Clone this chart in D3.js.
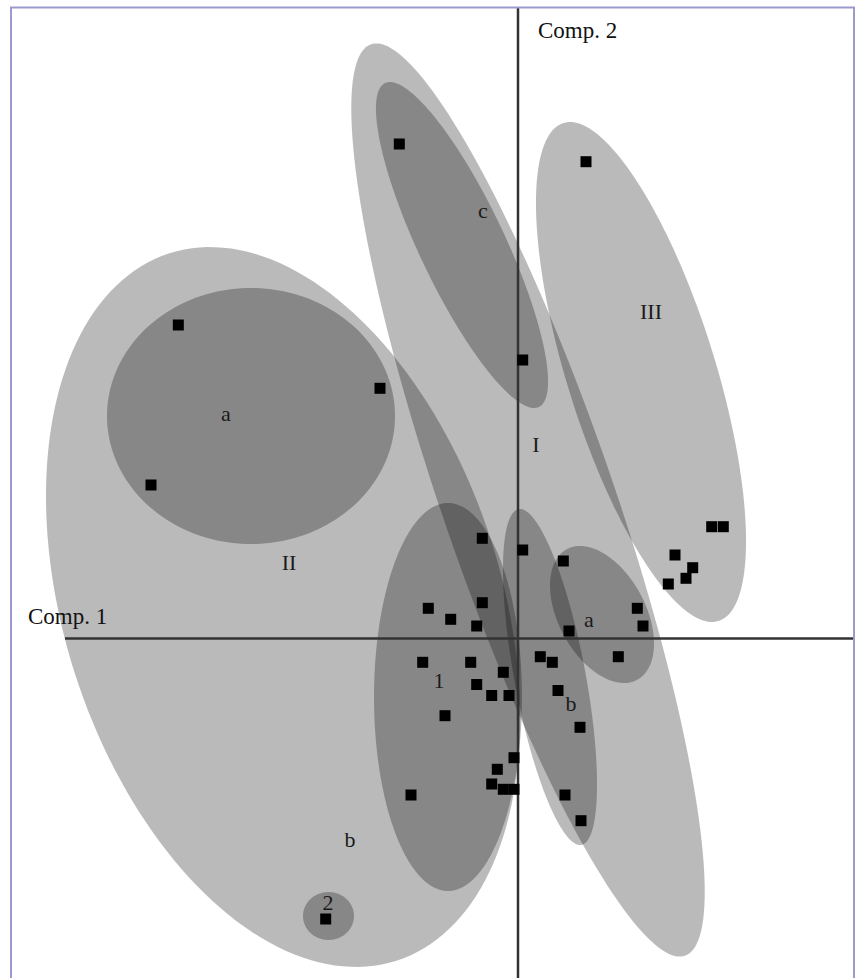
<!DOCTYPE html>
<html>
<head>
<meta charset="utf-8">
<script src="https://cdn.jsdelivr.net/npm/d3@7"></script>
<style>
  html, body { margin: 0; padding: 0; background: #fff; }
  svg { display: block; }
  text { font-family: "Liberation Serif", "Times New Roman", serif; }
</style>
</head>
<body>
<div id="chart"></div>
<script>
// Scores on the first two principal components
const pointComp1 = [
  -3.397, -1.38, -3.67, -1.187, 0.047, 0.68, 1.937, 2.053, 1.57, 1.747,
  1.68, 1.503, 0.453, 1.193, 1.25, 0.51, 1.003, -0.357, 0.047, -0.897,
  -0.357, -0.673, -0.413, -0.953, -0.473, 0.223, 0.343, -0.147, -0.413, -0.263,
  -0.09, 0.40, -0.73, 0.62, -0.04, -0.207, -0.263, -0.147, -0.04, -1.07,
  0.47, 0.63, -1.923
];
const pointComp2 = [
  3.135, 2.502, 1.535, 4.945, 2.785, 4.768, 1.118, 1.118, 0.835, 0.708,
  0.602, 0.545, 0.775, 0.302, 0.125, 0.075, -0.182, 1.002, 0.885, 0.302,
  0.358, 0.192, 0.125, -0.238, -0.238, -0.182, -0.238, -0.338, -0.46, -0.57,
  -0.57, -0.52, -0.772, -0.888, -1.192, -1.308, -1.455, -1.508, -1.508, -1.565,
  -1.565, -1.822, -2.805
];

// Group envelopes: centre, semi-axes and orientation (degrees) in score units
const groupNames  = ["II", "I", "III", "II a", "I c", "1", "I b", "I a", "2"];
const groupCx     = [-2.35, 0.10, 1.23, -2.67, -0.56, -0.70, 0.32, 0.84, -1.895];
const groupCy     = [0.315, 1.385, 2.665, 2.225, 3.935, -0.585, -0.385, 0.24, -2.775];
const groupRa     = [3.715, 4.82, 2.608, 1.44, 1.793, 1.94, 1.708, 0.742, 0.255];
const groupRb     = [2.185, 0.86, 0.742, 1.28, 0.428, 0.74, 0.356, 0.435, 0.24];
const groupAngle  = [-72.2, -71, -72.7, 0, -64.6, 90, -79.4, -61.7, 0];

// Group labels
const labelText = ["a", "II", "c", "III", "I", "a", "1", "b", "b", "2"];
const labelX    = [-2.92, -2.29, -0.35, 1.33, 0.18, 0.71, -0.79, 0.53, -1.68, -1.90];
const labelY    = [2.175, 0.685, 4.205, 3.195, 1.865, 0.115, -0.495, -0.725, -2.085, -2.715];

const axisTitles = ["Comp. 1", "Comp. 2"];

const width = 856, height = 978;
const svg = d3.select("#chart").append("svg")
  .attr("width", width).attr("height", height);

const x = d3.scaleLinear().domain([-5, 3]).range([18, 818]);
const y = d3.scaleLinear().domain([-3, 6]).range([938.5, 38.5]);

// Ellipse outline sampled in score space, projected through the scales
function ellipsePoints(i) {
  const phi = groupAngle[i] * Math.PI / 180;
  const ux = Math.cos(phi), uy = Math.sin(phi);
  const vx = -Math.sin(phi), vy = Math.cos(phi);
  return d3.range(0, 361, 2).map(deg => {
    const t = deg * Math.PI / 180;
    const a = groupRa[i] * Math.cos(t), b = groupRb[i] * Math.sin(t);
    return [groupCx[i] + a * ux + b * vx, groupCy[i] + a * uy + b * vy];
  });
}
const line = d3.line().x(d => x(d[0])).y(d => y(d[1])).curve(d3.curveLinearClosed);

svg.append("g").selectAll("path")
  .data(groupNames.map((n, i) => i))
  .join("path")
  .attr("d", i => line(ellipsePoints(i)))
  .attr("fill", "#000")
  .attr("fill-opacity", 0.27)
  .attr("stroke", "none");

// Component axes through the origin
svg.append("line")
  .attr("x1", x(-4.53)).attr("x2", 854)
  .attr("y1", y(0)).attr("y2", y(0))
  .attr("stroke", "#333").attr("stroke-width", 2.5);
svg.append("line")
  .attr("x1", x(0)).attr("x2", x(0))
  .attr("y1", 7).attr("y2", height)
  .attr("stroke", "#333").attr("stroke-width", 2.5);

// Observations
const pts = pointComp1.map((v, i) => [v, pointComp2[i]]);
const s = 11;
svg.append("g").selectAll("rect")
  .data(pts)
  .join("rect")
  .attr("x", d => x(d[0]) - s / 2)
  .attr("y", d => y(d[1]) - s / 2)
  .attr("width", s).attr("height", s)
  .attr("fill", "#000");

// Group labels
svg.append("g").selectAll("text")
  .data(labelText.map((t, i) => i))
  .join("text")
  .attr("x", i => x(labelX[i]))
  .attr("y", i => y(labelY[i]))
  .attr("text-anchor", "middle")
  .attr("font-size", 22)
  .attr("fill", "#1a1a1a")
  .text(i => labelText[i]);

// Axis titles
svg.append("text").attr("x", 28).attr("y", 624)
  .attr("font-size", 23).attr("fill", "#111").text(axisTitles[0]);
svg.append("text").attr("x", 538).attr("y", 38)
  .attr("font-size", 23).attr("fill", "#111").text(axisTitles[1]);

// Frame
svg.append("rect")
  .attr("x", 11).attr("y", 7.5)
  .attr("width", 843).attr("height", 1000)
  .attr("fill", "none")
  .attr("stroke", "#9a9ace").attr("stroke-width", 2);
</script>
</body>
</html>
